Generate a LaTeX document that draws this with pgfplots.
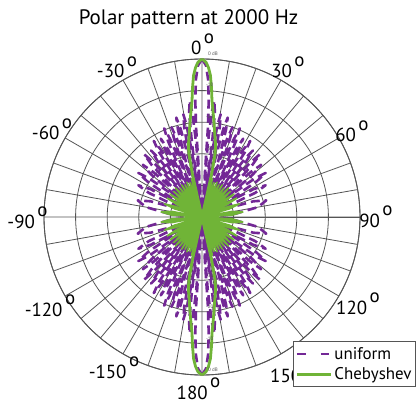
\documentclass[border=0pt]{standalone}
\usepackage{fontspec}
\setmainfont{PT Sans}
\usepackage{pgfplots}
\pgfplotsset{compat=1.18}
\usepackage{pgfplotstable}
\usepgfplotslibrary{polar}
\definecolor{unipurple}{RGB}{115,40,150}
\definecolor{chebgreen}{RGB}{112,180,55}
\definecolor{gridgray}{RGB}{85,85,85}
\newcommand{\dg}{\kern2.5bp\raisebox{0.62em}{o}}
\newcommand{\lab}{\fontsize{19}{22}\selectfont}

% one quadrant (angle from 0 deg = top, clockwise), radius = level in dB + 50
\pgfplotstableread{
a r
0 50
1.5 48
2.5 43.8
3.3 37.1
3.8 27.7
4.1 0
4.5 23
5.25 33
6.15 37
7.05 33
7.8 23
8.2 0
8.6 19
9.4 29
10.3 33
11.2 29
12.0 19
12.4 0
12.8 18.5
13.6 28.5
14.5 32.5
15.4 28.5
16.2 18.5
16.6 0
17.0 16
17.8 26
18.75 30
19.7 26
20.5 16
20.9 0
21.35 16.5
22.2 26.5
23.1 30.5
24.1 26.5
24.95 16.5
25.4 0
25.9 14
26.7 24
27.7 28
28.7 24
29.5 14
30 0
30.5 14.5
31.3 24.5
32.4 28.5
33.5 24.5
34.3 14.5
34.8 0
35.3 12.5
36.3 22.5
37.4 26.5
38.5 22.5
39.5 12.5
40 0
40.6 13
41.6 23
42.7 27
44.0 23
45.0 13
45.6 0
46.2 11
47.3 21
48.6 25
50.1 21
51.2 11
51.8 0
52.5 10.5
53.8 20.5
55.3 24.5
57.0 20.5
58.3 10.5
59 0
59.9 8.5
61.6 18.5
63.5 22.5
65.6 18.5
67.3 8.5
68.2 0
70.4 7
73 17
75.5 21
80 18
85 10
88 4
90 0
}\uni

\pgfplotstableread{
a r
0 50
1.5 49
2.5 47.3
3.4 44.9
4.2 41
4.9 37
6 33.5
7.5 29.5
9 26
10.5 23.5
11.8 20.5
12.6 14
13.2 0
}\chebmain

\pgfplotstableread{
a r
13.2 0
14.2 9
15.2 12.5
16.2 9
17.2 0
18.2 8
19.25 11.5
20.3 8
21.3 0
22.4 8.5
23.45 12
24.5 8.5
25.6 0
26.7 8
27.8 11.5
28.9 8
30 0
31.2 8.5
32.35 12
33.5 8.5
34.7 0
36 8
37.2 11.5
38.5 8
39.7 0
41 9
42.4 12.5
43.8 9
45.1 0
46.6 8.5
48 12
49.5 8.5
51 0
52.7 9
54.35 12.5
56 9
57.7 0
59.7 9
61.65 12.5
63.6 9
65.6 0
68.2 9
70.8 12.5
73.4 9
76 0
79.5 9.5
83 13
86.5 9.5
90 0
}\chebside

\begin{document}
\begin{tikzpicture}[x=1bp,y=1bp]
\begin{polaraxis}[
  name=pa,
  scale only axis, width=316bp, height=316bp,
  ymin=0, ymax=50,
  xtick={0,10,...,350}, ytick={10,20,30,40,50},
  xticklabels={}, yticklabels={},
  tick style={draw=none},
  grid=major,
  major grid style={line width=0.8bp, draw=gridgray},
  axis line style={line width=0.9bp, draw=gridgray},
  clip=false,
  legend style={at={(1.177,-0.038)}, anchor=south east, draw=gridgray, line width=0.8bp,
    font=\fontsize{17}{19}\selectfont, fill=white, inner xsep=2bp, inner ysep=3.5bp, row sep=3bp},
  legend cell align=left,
  legend image code/.code={\draw[#1] (0bp,0bp) -- (34bp,0bp);},
]
\pgfplotsset{
  unistyle/.style={draw=unipurple, line width=2.6bp, dash pattern=on 9bp off 5bp, line join=round},
  chebline/.style={draw=chebgreen, line width=2.8bp, line join=round},
  chebfill/.style={draw=chebgreen, fill=chebgreen, line width=1.6bp, line join=round},
}
\coordinate (O) at (axis cs:0,0);
% title and angle labels, placed relative to the centre of the pattern
\node[anchor=base, font=\fontsize{21}{24}\selectfont, inner sep=0] at ([shift={(-13.5bp,192bp)}]axis cs:0,0) {Polar pattern at 2000 Hz};
\node[anchor=base, font=\lab, inner sep=0] at ([shift={(0.5bp,162bp)}]axis cs:0,0) {0\dg};
\node[anchor=base, font=\lab, inner sep=0] at ([shift={(86bp,139bp)}]axis cs:0,0) {30\dg};
\node[anchor=base, font=\lab, inner sep=0] at ([shift={(150bp,75bp)}]axis cs:0,0) {60\dg};
\node[anchor=base, font=\lab, inner sep=0] at ([shift={(174bp,-10bp)}]axis cs:0,0) {90\dg};
\node[anchor=base, font=\lab, inner sep=0] at ([shift={(156bp,-97bp)}]axis cs:0,0) {120\dg};
\node[anchor=base, font=\lab, inner sep=0] at ([shift={(90bp,-165bp)}]axis cs:0,0) {150\dg};
\node[anchor=base, font=\lab, inner sep=0] at ([shift={(-3.5bp,-182bp)}]axis cs:0,0) {180\dg};
\node[anchor=base, font=\lab, inner sep=0] at ([shift={(-88bp,-161bp)}]axis cs:0,0) {-150\dg};
\node[anchor=base, font=\lab, inner sep=0] at ([shift={(-152bp,-99bp)}]axis cs:0,0) {-120\dg};
\node[anchor=base, font=\lab, inner sep=0] at ([shift={(-174.5bp,-11bp)}]axis cs:0,0) {-90\dg};
\node[anchor=base, font=\lab, inner sep=0] at ([shift={(-150bp,77bp)}]axis cs:0,0) {-60\dg};
\node[anchor=base, font=\lab, inner sep=0] at ([shift={(-85bp,139bp)}]axis cs:0,0) {-30\dg};

\addplot[unistyle, legend image code/.code={\draw[draw=unipurple, line width=2.6bp] (0bp,0bp) -- (11bp,0bp) (24bp,0bp) -- (32bp,0bp);}] table[x expr=90-\thisrow{a}, y=r]{\uni};
\addplot[unistyle, forget plot] table[x expr=90+\thisrow{a}, y=r]{\uni};
\addplot[unistyle, forget plot] table[x expr=\thisrow{a}-90, y=r]{\uni};
\addplot[unistyle, forget plot] table[x expr=-90-\thisrow{a}, y=r]{\uni};

\addplot[chebfill, forget plot] table[x expr=90-\thisrow{a}, y=r]{\chebside};
\addplot[chebfill, forget plot] table[x expr=90+\thisrow{a}, y=r]{\chebside};
\addplot[chebfill, forget plot] table[x expr=\thisrow{a}-90, y=r]{\chebside};
\addplot[chebfill, forget plot] table[x expr=-90-\thisrow{a}, y=r]{\chebside};

\addplot[chebline] table[x expr=90-\thisrow{a}, y=r]{\chebmain};
\addplot[chebline, forget plot] table[x expr=90+\thisrow{a}, y=r]{\chebmain};
\addplot[chebline, forget plot] table[x expr=\thisrow{a}-90, y=r]{\chebmain};
\addplot[chebline, forget plot] table[x expr=-90-\thisrow{a}, y=r]{\chebmain};
\legend{uniform, Chebyshev}
\end{polaraxis}
% small level labels
\begin{scope}[shift={(O)}, every node/.style={anchor=base west, font=\fontsize{5}{6}\selectfont, text=gridgray, inner sep=0}]
\node at (6,161) {0 dB};
\node at (4,130) {-10};
\node at (4,98) {-20};
\node at (4,66) {-30};
\node at (6,-155) {0 dB};
\node at (4,-124) {-10};
\node at (4,-92) {-20};
\node at (4,-61) {-30};
\end{scope}
\pgfresetboundingbox
\path[use as bounding box] ([shift={(-202bp,-187bp)}]O) rectangle ([shift={(216bp,217bp)}]O);
\end{tikzpicture}
\end{document}
